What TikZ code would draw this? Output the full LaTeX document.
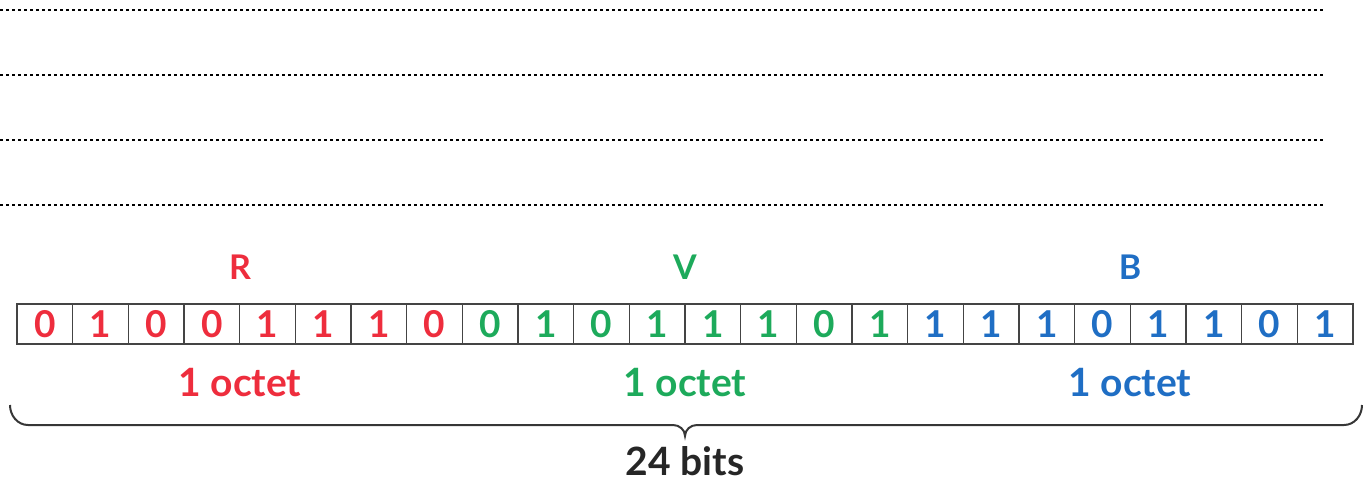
\documentclass[tikz,border=0pt]{standalone}
\usepackage{fontspec}
\setmainfont{Lato}
\usetikzlibrary{calc}
\definecolor{rouge}{HTML}{EE2D3D}
\definecolor{vert}{HTML}{1DAA5B}
\definecolor{bleu}{HTML}{1F6EC4}
\definecolor{trait}{HTML}{444444}

\tikzset{
	guide/.style={draw=black, line width=1.6pt, dash pattern=on 3.2pt off 2.8pt},
	bitcell/.style={draw=trait, line width=1.6pt, minimum width=55.67pt, minimum height=40pt,
		inner sep=0pt, font=\fontsize{37}{37}\selectfont\bfseries},
	canal/.style={anchor=base, inner sep=0pt, font=\fontsize{34}{34}\selectfont\bfseries},
	octet/.style={anchor=base, inner sep=0pt, font=\fontsize{39}{39}\selectfont\bfseries},
	accolade/.style={draw=trait!80!black, line width=2pt},
}

\begin{document}
\begin{tikzpicture}[x=1pt, y=-1pt]
\useasboundingbox (0,0) rectangle (1368,482);

	% guide lines
\foreach \y [count=\j] in {10,75,140,205}
	\draw[guide] (0,\y) coordinate (g\j) -- (1323,\y) coordinate (h\j);

	% bits
\foreach \grp/\col/\bits in {0/rouge/{0,1,0,0,1,1,1,0}, 1/vert/{0,1,0,1,1,1,0,1}, 2/bleu/{1,1,1,0,1,1,0,1}} {
	\foreach \b [count=\k] in \bits {
		\pgfmathtruncatemacro\n{\grp*8+\k}
		\pgfmathsetmacro\xc{17+(\n-0.5)*55.667}
		\node[bitcell, text=\col] (c\n) at (\xc,324) {\b};
	}
}

	% channel names and sizes
\path
	(240,279) node[canal, text=rouge] (nR) {R}
	(685,279) node[canal, text=vert] (nV) {V}
	(1130,279) node[canal, text=bleu] (nB) {B}
	(240,396) node[octet, text=rouge] (oR) {1 octet}
	(685,396) node[octet, text=vert] (oV) {1 octet}
	(1130,396) node[octet, text=bleu] (oB) {1 octet}
	(685,475) node[octet, text=black!85] (total) {24 bits}
	;

	% brace
\path
	(10,405) coordinate (bl)
	(685,436) coordinate (bm)
	(1362,405) coordinate (br)
	;
\draw[accolade] (bl) to[out=-90, in=180] ($(bl)+(18,20)$)
	-- ($(bm)+(-12,-11)$) to[out=0, in=90] (bm)
	to[out=90, in=180] ($(bm)+(12,-11)$)
	-- ($(br)+(-18,20)$) to[out=0, in=-90] (br);
\end{tikzpicture}
\end{document}
